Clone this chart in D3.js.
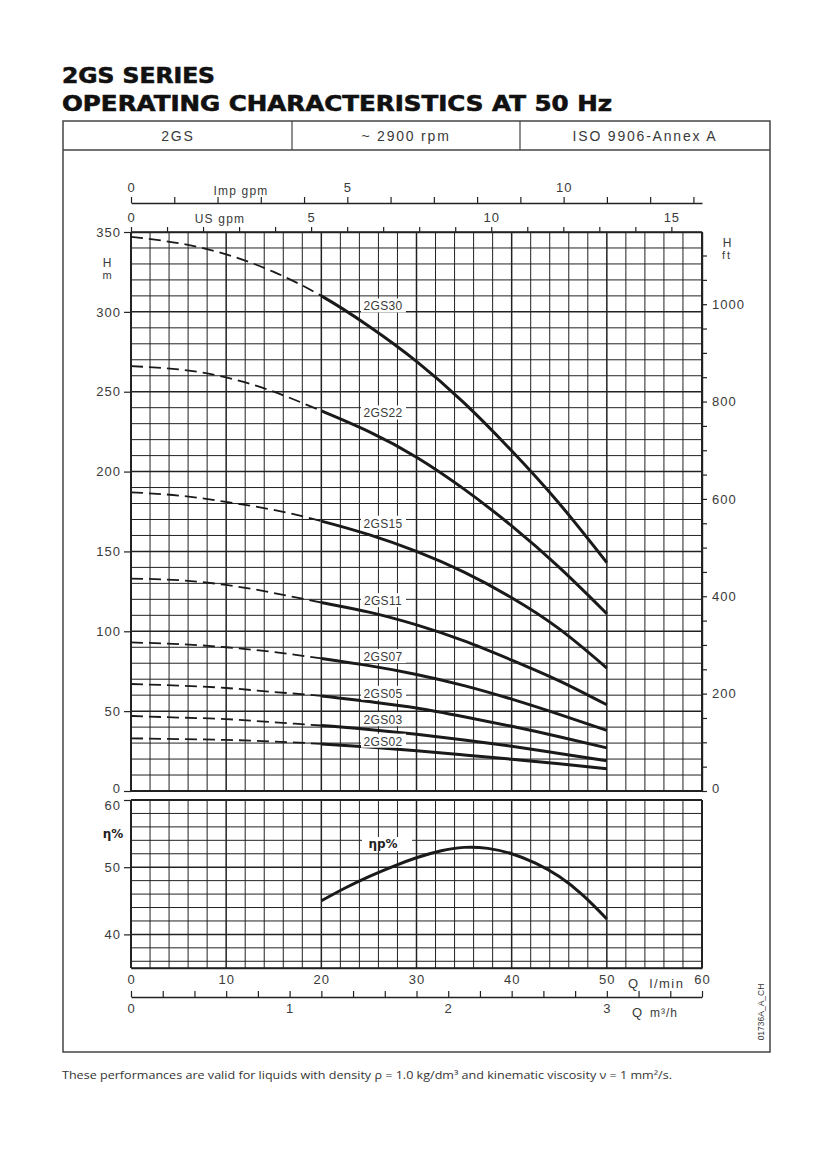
<!DOCTYPE html>
<html><head><meta charset="utf-8">
<script src="https://cdn.jsdelivr.net/npm/d3@7"></script>
<style>
html,body{margin:0;padding:0;background:#fff;}
svg{display:block;}
</style>
</head><body>
<script>
// ---------- DATA ----------
const titleLines = ["2GS SERIES", "OPERATING CHARACTERISTICS AT 50 Hz"];
const headerCells = ["2GS", "~ 2900 rpm", "ISO 9906-Annex A"];
const footnote = "These performances are valid for liquids with density \u03C1 = 1.0 kg/dm\u00B3 and kinematic viscosity \u03BD = 1 mm\u00B2/s.";
const docCode = "01736A_A_CH";

const flow = [0, 5, 10, 15, 20, 25, 30, 35, 40, 45, 50];          // Q l/min
const models = ["2GS30", "2GS22", "2GS15", "2GS11", "2GS07", "2GS05", "2GS03", "2GS02"];
const head2GS30 = [347, 343, 336, 325, 310, 291, 269, 243, 213, 180, 143];
const head2GS22 = [266, 264, 259, 250, 238, 225, 209, 189, 166, 140, 111];
const head2GS15 = [187, 185, 181, 176, 169, 160.5, 150, 137, 121, 101.5, 77];
const head2GS11 = [133, 132, 129, 124, 118, 112, 104, 94, 82, 69, 54];
const head2GS07 = [93, 92, 90, 87, 83, 78.5, 73, 66, 57.5, 48, 38];
const head2GS05 = [67, 66, 64.5, 62, 59.5, 56, 52, 46.5, 40.5, 34, 27];
const head2GS03 = [47, 46, 45, 43, 41, 38.5, 35.5, 32, 28, 23.5, 19];
const head2GS02 = [33, 32.5, 32, 31, 29.5, 27.5, 25.2, 22.6, 19.9, 17, 14];
const heads = [head2GS30, head2GS22, head2GS15, head2GS11, head2GS07, head2GS05, head2GS03, head2GS02];
const labelHead = [304, 237, 168, 119.5, 84.5, 61.5, 45, 31.5];   // head where each curve name sits
const dashedUntil = 20;                                              // l/min: dashed below this flow

const effFlow = [20, 22.5, 25, 27.5, 30, 32.5, 35, 37.5, 40, 42.5, 45, 47.5, 50];
const effValues = [45, 46.9, 48.6, 50.1, 51.4, 52.4, 52.95, 52.8, 52, 50.6, 48.6, 45.8, 42.3];

const hTicks = [0, 50, 100, 150, 200, 250, 300, 350];
const ftLabels = [0, 200, 400, 600, 800, 1000];
const effTicks = [40, 50, 60];
const lminTicks = [0, 10, 20, 30, 40, 50, 60];
const m3hLabels = [0, 1, 2, 3];
const impLabels = [0, 5, 10];
const usLabels = [0, 5, 10, 15];

// ---------- SETUP ----------
const W = 827, H = 1169;
const svg = d3.select("body").append("svg").attr("width", W).attr("height", H);
const plotFont = "'Liberation Sans', Arial, sans-serif";
const ink = "#222";
const txt = "#3a3a3a";

const x = d3.scaleLinear([0, 60], [131, 702]);
const y = d3.scaleLinear([0, 350], [791, 232]);
const ye = d3.scaleLinear([35, 60], [968, 800]);
const xImp = d3.scaleLinear([0, 60 / 4.54609], [131, 702]);
const xUS = d3.scaleLinear([0, 60 / 3.78541], [131, 702]);
const xM3h = d3.scaleLinear([0, 3.6], [131, 702]);
const yFt = d3.scaleLinear([0, 350 / 0.3048], [791, 232]);

// ---------- TITLE ----------
svg.append("text").attr("x", 62).attr("y", 83).text(titleLines[0])
  .attr("font-family", "'DejaVu Sans', sans-serif").attr("font-weight", "bold")
  .attr("font-size", 21).attr("fill", "#111").attr("stroke", "#111").attr("stroke-width", 0.6)
  .attr("textLength", 153).attr("lengthAdjust", "spacingAndGlyphs");
svg.append("text").attr("x", 62).attr("y", 111).text(titleLines[1])
  .attr("font-family", "'DejaVu Sans', sans-serif").attr("font-weight", "bold")
  .attr("font-size", 21).attr("fill", "#111").attr("stroke", "#111").attr("stroke-width", 0.6)
  .attr("textLength", 550).attr("lengthAdjust", "spacingAndGlyphs");

// ---------- FRAME & HEADER ----------
svg.append("rect").attr("x", 63).attr("y", 121).attr("width", 707).attr("height", 931)
  .attr("fill", "none").attr("stroke", "#444").attr("stroke-width", 1.5);
svg.append("line").attr("x1", 63).attr("x2", 770).attr("y1", 150).attr("y2", 150)
  .attr("stroke", "#444").attr("stroke-width", 1.5);
[292, 520].forEach(xx => svg.append("line").attr("x1", xx).attr("x2", xx)
  .attr("y1", 121).attr("y2", 150).attr("stroke", "#444").attr("stroke-width", 1.2));
const cellCenters = [178, 406, 645];
headerCells.forEach((t, i) => svg.append("text").attr("x", cellCenters[i]).attr("y", 141)
  .attr("text-anchor", "middle").text(t).attr("font-family", plotFont)
  .attr("font-size", 14).attr("letter-spacing", 1.8).attr("fill", txt));

// ---------- GRID: MAIN ----------
const grid = svg.append("g").attr("stroke", ink).attr("fill", "none");
d3.range(0, 61, 2).forEach(v => grid.append("line")
  .attr("x1", x(v)).attr("x2", x(v)).attr("y1", y(350)).attr("y2", y(0))
  .attr("stroke-width", (v % 10 === 0) ? 1.5 : 1));
d3.range(0, 351, 10).forEach(v => grid.append("line")
  .attr("x1", x(0)).attr("x2", x(60)).attr("y1", y(v)).attr("y2", y(v))
  .attr("stroke-width", (v % 50 === 0) ? 1.5 : 1));
// GRID: efficiency
d3.range(0, 61, 2).forEach(v => grid.append("line")
  .attr("x1", x(v)).attr("x2", x(v)).attr("y1", ye(60)).attr("y2", ye(35))
  .attr("stroke-width", (v % 10 === 0) ? 1.5 : 1));
d3.range(36, 61, 2).forEach(v => grid.append("line")
  .attr("x1", x(0)).attr("x2", x(60)).attr("y1", ye(v)).attr("y2", ye(v))
  .attr("stroke-width", (v % 10 === 0) ? 1.5 : 1));
grid.append("line").attr("x1", x(0)).attr("x2", x(60)).attr("y1", ye(35)).attr("y2", ye(35)).attr("stroke-width", 1.5);
// borders
grid.append("line").attr("x1", x(0)).attr("x2", x(0)).attr("y1", y(350)).attr("y2", y(0)).attr("stroke-width", 2);
grid.append("line").attr("x1", x(0)).attr("x2", x(0)).attr("y1", ye(60)).attr("y2", ye(35)).attr("stroke-width", 2);
grid.append("line").attr("x1", x(0)).attr("x2", x(60)).attr("y1", y(0)).attr("y2", y(0)).attr("stroke-width", 2);
grid.append("line").attr("x1", x(0)).attr("x2", x(60)).attr("y1", ye(60)).attr("y2", ye(60)).attr("stroke-width", 2);

// ---------- AXES ----------
function styleAxis(g) {
  g.select(".domain").attr("stroke", ink).attr("stroke-width", 1.4);
  g.selectAll(".tick line").attr("stroke", ink).attr("stroke-width", 1.2);
  g.selectAll("text").attr("font-family", plotFont).attr("font-size", 13)
    .attr("fill", txt).attr("letter-spacing", 1);
}
// Imp gpm (top)
svg.append("g").attr("transform", "translate(0,203)")
  .call(d3.axisTop(xImp).tickValues(d3.range(0, 14, 1)).tickSizeInner(6).tickSizeOuter(0)
    .tickPadding(5).tickFormat(d => impLabels.includes(d) ? d : ""))
  .call(styleAxis);
svg.append("text").attr("x", 241).attr("y", 195).attr("text-anchor", "middle").text("Imp gpm")
  .attr("font-family", plotFont).attr("font-size", 12).attr("letter-spacing", 1.2).attr("fill", txt);
// US gpm (top of grid)
svg.append("g").attr("transform", `translate(0,${y(350)})`)
  .call(d3.axisTop(xUS).tickValues(d3.range(0, 16, 1)).tickSizeInner(5).tickSizeOuter(0)
    .tickPadding(5).tickFormat(d => usLabels.includes(d) ? d : ""))
  .call(styleAxis);
svg.append("text").attr("x", 220).attr("y", 223).attr("text-anchor", "middle").text("US gpm")
  .attr("font-family", plotFont).attr("font-size", 12).attr("letter-spacing", 1.2).attr("fill", txt);
// H m (left)
const hAxis = svg.append("g").attr("transform", `translate(${x(0)},0)`)
  .call(d3.axisLeft(y).tickValues(hTicks).tickSizeInner(7).tickSizeOuter(0).tickPadding(3))
  .call(styleAxis);
hAxis.select(".domain").remove();
hAxis.selectAll(".tick").filter(d => d === 0).select("text").attr("dy", "0.1em");
svg.append("text").attr("x", 107).attr("y", 267).attr("text-anchor", "middle").text("H")
  .attr("font-family", plotFont).attr("font-size", 12).attr("fill", txt);
svg.append("text").attr("x", 107).attr("y", 279).attr("text-anchor", "middle").text("m")
  .attr("font-family", plotFont).attr("font-size", 11).attr("fill", txt);
// H ft (right)
const ftAxis = svg.append("g").attr("transform", `translate(${x(60)},0)`)
  .call(d3.axisRight(yFt).tickValues(d3.range(0, 1150, 50)).tickSizeInner(5).tickSizeOuter(0)
    .tickPadding(5).tickFormat(d => ftLabels.includes(d) ? d : ""))
  .call(styleAxis);
ftAxis.selectAll(".tick").filter(d => d === 0).select("text").attr("dy", "0.1em");
svg.append("line").attr("x1", x(60)).attr("x2", x(60)).attr("y1", y(350)).attr("y2", y(0))
  .attr("stroke", ink).attr("stroke-width", 2);
svg.append("line").attr("x1", x(60)).attr("x2", x(60)).attr("y1", ye(60)).attr("y2", ye(35))
  .attr("stroke", ink).attr("stroke-width", 2);
svg.append("text").attr("x", 727).attr("y", 247).attr("text-anchor", "middle").text("H")
  .attr("font-family", plotFont).attr("font-size", 12).attr("fill", txt);
svg.append("text").attr("x", 727).attr("y", 259).attr("text-anchor", "middle").text("ft")
  .attr("font-family", plotFont).attr("font-size", 11).attr("letter-spacing", 2).attr("fill", txt);
// Efficiency (left)
const eAxis = svg.append("g").attr("transform", `translate(${x(0)},0)`)
  .call(d3.axisLeft(ye).tickValues(effTicks).tickSizeInner(7).tickSizeOuter(0).tickPadding(3))
  .call(styleAxis);
eAxis.select(".domain").remove();
eAxis.selectAll(".tick").filter(d => d === 60).select("text").attr("dy", "0.75em");
svg.append("text").attr("x", 113).attr("y", 838).attr("text-anchor", "middle").text("\u03B7%")
  .attr("font-family", "'DejaVu Sans', sans-serif").attr("font-weight", "bold").attr("font-size", 12).attr("fill", "#222");
// Q l/min (bottom of efficiency panel)
svg.append("g").attr("transform", `translate(0,${ye(35)})`)
  .call(d3.axisBottom(x).tickValues(lminTicks).tickSizeInner(0).tickSizeOuter(0).tickPadding(7))
  .call(styleAxis);
svg.append("text").attr("x", 633).attr("y", 988).attr("text-anchor", "middle").text("Q")
  .attr("font-family", plotFont).attr("font-size", 13).attr("fill", txt);
svg.append("text").attr("x", 667).attr("y", 988).attr("text-anchor", "middle").text("l/min")
  .attr("font-family", plotFont).attr("font-size", 13).attr("letter-spacing", 1.5).attr("fill", txt);
// Q m3/h
svg.append("g").attr("transform", "translate(0,997)")
  .call(d3.axisBottom(xM3h).tickValues(d3.range(0, 3.61, 0.2)).tickSizeInner(-6).tickSizeOuter(0)
    .tickPadding(7).tickFormat(d => m3hLabels.some(v => Math.abs(v - d) < 1e-6) ? d3.format("d")(d) : ""))
  .call(styleAxis);
svg.append("text").attr("x", 637).attr("y", 1017).attr("text-anchor", "middle").text("Q")
  .attr("font-family", plotFont).attr("font-size", 13).attr("fill", txt);
svg.append("text").attr("x", 664).attr("y", 1017).attr("text-anchor", "middle").text("m\u00B3/h")
  .attr("font-family", plotFont).attr("font-size", 12).attr("letter-spacing", 1).attr("fill", txt);

// ---------- CURVES ----------
const defs = svg.append("defs");
defs.append("clipPath").attr("id", "clipDash").append("rect")
  .attr("x", 0).attr("y", 0).attr("width", x(dashedUntil)).attr("height", H);
defs.append("clipPath").attr("id", "clipSolid").append("rect")
  .attr("x", x(dashedUntil)).attr("y", 0).attr("width", W).attr("height", H);
const line = d3.line().x(d => x(d[0])).y(d => y(d[1])).curve(d3.curveNatural);
const curvesG = svg.append("g").attr("fill", "none").attr("stroke", "#1a1a1a");
heads.forEach((hv, i) => {
  const d = line(flow.map((q, j) => [q, hv[j]]));
  curvesG.append("path").attr("d", d).attr("clip-path", "url(#clipDash)")
    .attr("stroke-width", 1.8).attr("stroke-dasharray", "12,6");
  curvesG.append("path").attr("d", d).attr("clip-path", "url(#clipSolid)")
    .attr("stroke-width", 3);
});
// labels
const labG = svg.append("g");
models.forEach((m, i) => {
  const cy = y(labelHead[i]);
  labG.append("rect").attr("x", 361).attr("y", cy - 7).attr("width", 45).attr("height", 14).attr("fill", "#fff");
  labG.append("text").attr("x", 383).attr("y", cy + 5).attr("text-anchor", "middle").text(m)
    .attr("font-family", plotFont).attr("font-size", 12).attr("letter-spacing", 0.3).attr("fill", txt);
});
// efficiency
const eline = d3.line().x(d => x(d[0])).y(d => ye(d[1])).curve(d3.curveNatural);
curvesG.append("path").attr("d", eline(effFlow.map((q, j) => [q, effValues[j]])))
  .attr("stroke-width", 3);
labG.append("rect").attr("x", 362).attr("y", 837).attr("width", 50).attr("height", 14).attr("fill", "#fff");
labG.append("text").attr("x", 383).attr("y", 848).attr("text-anchor", "middle").text("\u03B7p%")
  .attr("font-family", "'DejaVu Sans', sans-serif").attr("font-weight", "bold").attr("font-size", 12).attr("fill", "#222");

// ---------- FOOTNOTE & CODE ----------
svg.append("text").attr("x", 62).attr("y", 1079).text(footnote)
  .attr("font-family", "'Open Sans', sans-serif").attr("font-size", 10.5).attr("fill", "#333")
  .attr("textLength", 610).attr("lengthAdjust", "spacingAndGlyphs");
svg.append("text").attr("transform", "translate(764,1012) rotate(-90)").attr("text-anchor", "middle")
  .text(docCode).attr("font-family", plotFont).attr("font-size", 8.5).attr("fill", "#333");
</script>
</body></html>
